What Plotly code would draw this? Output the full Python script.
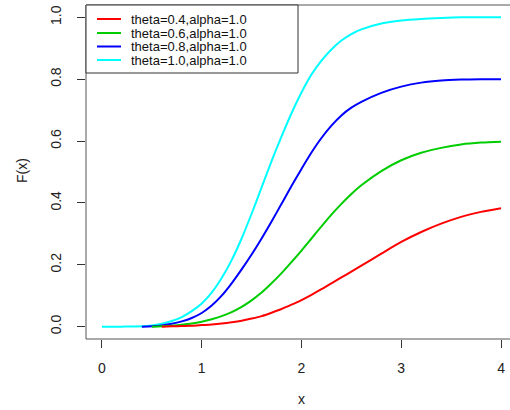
import plotly.graph_objects as go

# x grid shared by all curves
x_grid = [0.0, 0.2, 0.4, 0.5, 0.6, 0.7, 0.8, 0.9, 1.0, 1.1, 1.2, 1.3, 1.4, 1.5,
          1.6, 1.7, 1.8, 1.9, 2.0, 2.1, 2.2, 2.3, 2.4, 2.5, 2.6, 2.8, 3.0, 3.2,
          3.4, 3.6, 3.8, 4.0]

# F(x) values (None = curve not drawn there)
f_theta04 = [None, None, None, None, 0.0, 0.001, 0.002, 0.003, 0.005, 0.007, 0.010,
             0.014, 0.019, 0.026, 0.034, 0.045, 0.057, 0.071, 0.086, 0.103, 0.121,
             0.140, 0.159, 0.178, 0.197, 0.236, 0.274, 0.306, 0.333, 0.355, 0.371, 0.383]
f_theta06 = [None, None, None, 0.0, 0.001, 0.003, 0.006, 0.010, 0.016, 0.024, 0.034,
             0.047, 0.064, 0.085, 0.110, 0.140, 0.173, 0.209, 0.246, 0.285, 0.324,
             0.362, 0.397, 0.429, 0.457, 0.503, 0.538, 0.562, 0.578, 0.589, 0.595, 0.598]
f_theta08 = [None, None, 0.0, 0.001, 0.004, 0.009, 0.017, 0.028, 0.044, 0.068, 0.100,
             0.140, 0.185, 0.233, 0.285, 0.340, 0.397, 0.455, 0.510, 0.563, 0.610,
             0.650, 0.683, 0.708, 0.727, 0.756, 0.776, 0.789, 0.796, 0.799, 0.800, 0.800]
f_theta10 = [0.0, 0.0, 0.001, 0.004, 0.009, 0.018, 0.031, 0.050, 0.075, 0.110, 0.157,
             0.215, 0.285, 0.365, 0.450, 0.535, 0.615, 0.690, 0.757, 0.815, 0.860,
             0.896, 0.925, 0.946, 0.961, 0.980, 0.990, 0.995, 0.998, 1.000, 1.000, 1.000]

series_names = ["theta=0.4,alpha=1.0", "theta=0.6,alpha=1.0",
                "theta=0.8,alpha=1.0", "theta=1.0,alpha=1.0"]
series_values = [f_theta04, f_theta06, f_theta08, f_theta10]
series_colors = ["#FF0000", "#00CD00", "#0000FF", "#00FFFF"]

x_ticks = [0, 1, 2, 3, 4]
y_ticks = [0.0, 0.2, 0.4, 0.6, 0.8, 1.0]

W, H = 510, 410
ML, MR, MT, MB = 86, 0, 5, 71
PW, PH = W - ML - MR, H - MT - MB

def px2paper_x(px):
    return (px - ML) / PW

def px2paper_y(py):
    return (H - MB - py) / PH

fig = go.Figure()
# draw in reverse order so that the red curve ends up on top at the baseline
for name, vals, col in reversed(list(zip(series_names, series_values, series_colors))):
    fig.add_trace(go.Scatter(x=x_grid, y=vals, mode="lines", name=name,
                             line=dict(color=col, width=2, shape="spline", smoothing=0.8),
                             connectgaps=False, showlegend=False, hoverinfo="skip"))

font_family = "Liberation Sans, Arial, sans-serif"
shapes = []
frame_col = "#555555"
# plot frame (right edge falls outside the picture)
shapes.append(dict(type="line", xref="paper", yref="paper", x0=0, x1=0, y0=0, y1=1,
                   line=dict(color=frame_col, width=1)))
shapes.append(dict(type="line", xref="paper", yref="paper", x0=0, x1=1, y0=1, y1=1,
                   line=dict(color=frame_col, width=1)))
shapes.append(dict(type="line", xref="paper", yref="paper", x0=0, x1=1, y0=0, y1=0,
                   line=dict(color=frame_col, width=1)))

# legend box
shapes.append(dict(type="rect", xref="paper", yref="paper",
                   x0=px2paper_x(86), x1=px2paper_x(298),
                   y0=px2paper_y(73), y1=px2paper_y(5),
                   line=dict(color="#333333", width=1), fillcolor="white", layer="above"))
annotations = []
row_y = [19, 33, 46.5, 60]
for name, col, ry in zip(series_names, series_colors, row_y):
    shapes.append(dict(type="line", xref="paper", yref="paper",
                       x0=px2paper_x(97), x1=px2paper_x(121),
                       y0=px2paper_y(ry), y1=px2paper_y(ry),
                       line=dict(color=col, width=2), layer="above"))
    annotations.append(dict(text=name, xref="paper", yref="paper",
                            x=px2paper_x(129), y=px2paper_y(ry),
                            xanchor="left", yanchor="middle", showarrow=False,
                            font=dict(size=13, color="#111111", family=font_family)))

# axis titles
annotations.append(dict(text="x", xref="paper", yref="paper",
                        x=px2paper_x(301.5), y=px2paper_y(399), xanchor="center",
                        yanchor="middle", showarrow=False,
                        font=dict(size=14, color="#222222", family=font_family)))
annotations.append(dict(text="F(x)", xref="paper", yref="paper",
                        x=px2paper_x(22), y=px2paper_y(171), xanchor="center",
                        yanchor="middle", showarrow=False, textangle=-90,
                        font=dict(size=14, color="#222222", family=font_family)))

fig.update_layout(
    width=W, height=H,
    margin=dict(l=ML, r=MR, t=MT, b=MB, pad=0),
    plot_bgcolor="white", paper_bgcolor="white",
    shapes=shapes, annotations=annotations,
    font=dict(family=font_family, size=14, color="#222222"),
    xaxis=dict(range=[-0.16, 4.09], tickvals=x_ticks, ticktext=[str(v) for v in x_ticks],
               showgrid=False, zeroline=False, showline=False, automargin=False,
               ticks="outside", ticklen=8, tickwidth=1, tickcolor="#333333",
               ticklabelstandoff=8, tickfont=dict(size=14)),
    yaxis=dict(range=[-0.04, 1.04], tickvals=y_ticks,
               ticktext=["%.1f" % v for v in y_ticks],
               showgrid=False, zeroline=False, showline=False, automargin=False,
               ticks="outside", ticklen=8, tickwidth=1, tickcolor="#333333",
               tickangle=-90, ticklabelstandoff=10, tickfont=dict(size=14)),
)

fig.write_html("out.html", config={"displayModeBar": False},
               post_script="document.body.style.margin='0';document.body.style.overflow='hidden';")
